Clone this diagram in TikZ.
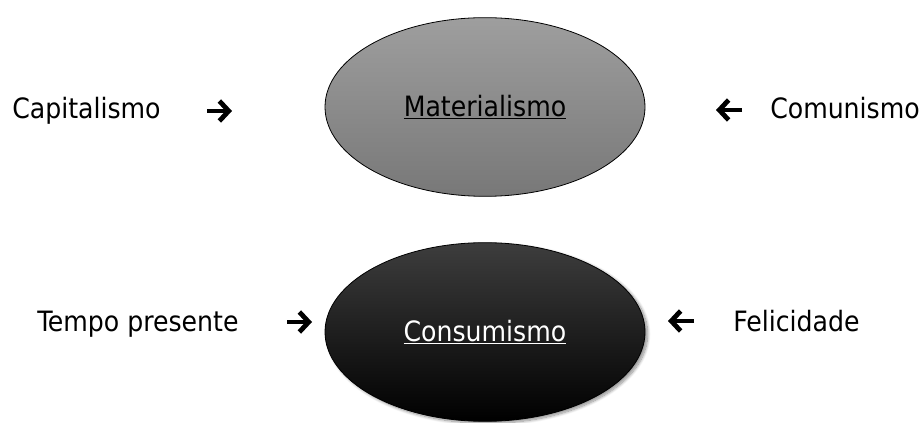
\documentclass[tikz,border=0pt]{standalone}
\usepackage{fontspec}
\setmainfont{DejaVu Sans Condensed}
\usetikzlibrary{positioning,arrows.meta,shapes,shadows.blur}
\tikzset{
    idea/.style = {
        draw,
        shape=ellipse,
        minimum width=240pt,
        minimum height=134pt,
        inner sep=0pt,
        line width=0.6pt,
        font=\fontsize{21}{24}\selectfont
    },
    soft/.style = {
        idea,
        top color=black!38,
        bottom color=black!53,
        text=black
    },
    dark/.style = {
        idea,
        top color=black!76,
        middle color=black,
        bottom color=black,
        text=white,
        blur shadow={shadow xshift=2pt, shadow yshift=-1.5pt, shadow blur steps=10, shadow opacity=45}
    },
    word/.style = {
        anchor=base west,
        inner sep=0pt,
        font=\fontsize{21}{24}\selectfont
    },
    wing/.style = {
        line width=3.6pt,
        -{Straight Barb[length=7pt,width=15pt,line width=3.6pt]}
    },
}
\begin{document}
\begin{tikzpicture}[x=0.75pt,y=-0.75pt]
            \useasboundingbox (0,0) rectangle (924,423);

            \node[soft] (mat) at (485,107) {\underline{Materialismo}};
            \node[dark] (cons) at (485,332) {\underline{Consumismo}};

            \node[word] (capital) at (12,119) {Capitalismo};
            \node[word] (comun) at (770,119) {Comunismo};
            \node[word] (tempo) at (37,332) {Tempo presente};
            \node[word] (felic) at (733,332) {Felicidade};

            % arrow glyphs between the words and the ellipses
            \coordinate (capA) at (207,111);
            \coordinate (capB) at (232,111);
            \coordinate (comA) at (742,110);
            \coordinate (comB) at (716,110);
            \coordinate (tempA) at (287,322);
            \coordinate (tempB) at (312,322);
            \coordinate (felA) at (694,321);
            \coordinate (felB) at (668,321);

            \draw[wing] (capA) -- (capB);
            \draw[wing] (comA) -- (comB);
            \draw[wing] (tempA) -- (tempB);
            \draw[wing] (felA) -- (felB);

        \end{tikzpicture}
\end{document}
